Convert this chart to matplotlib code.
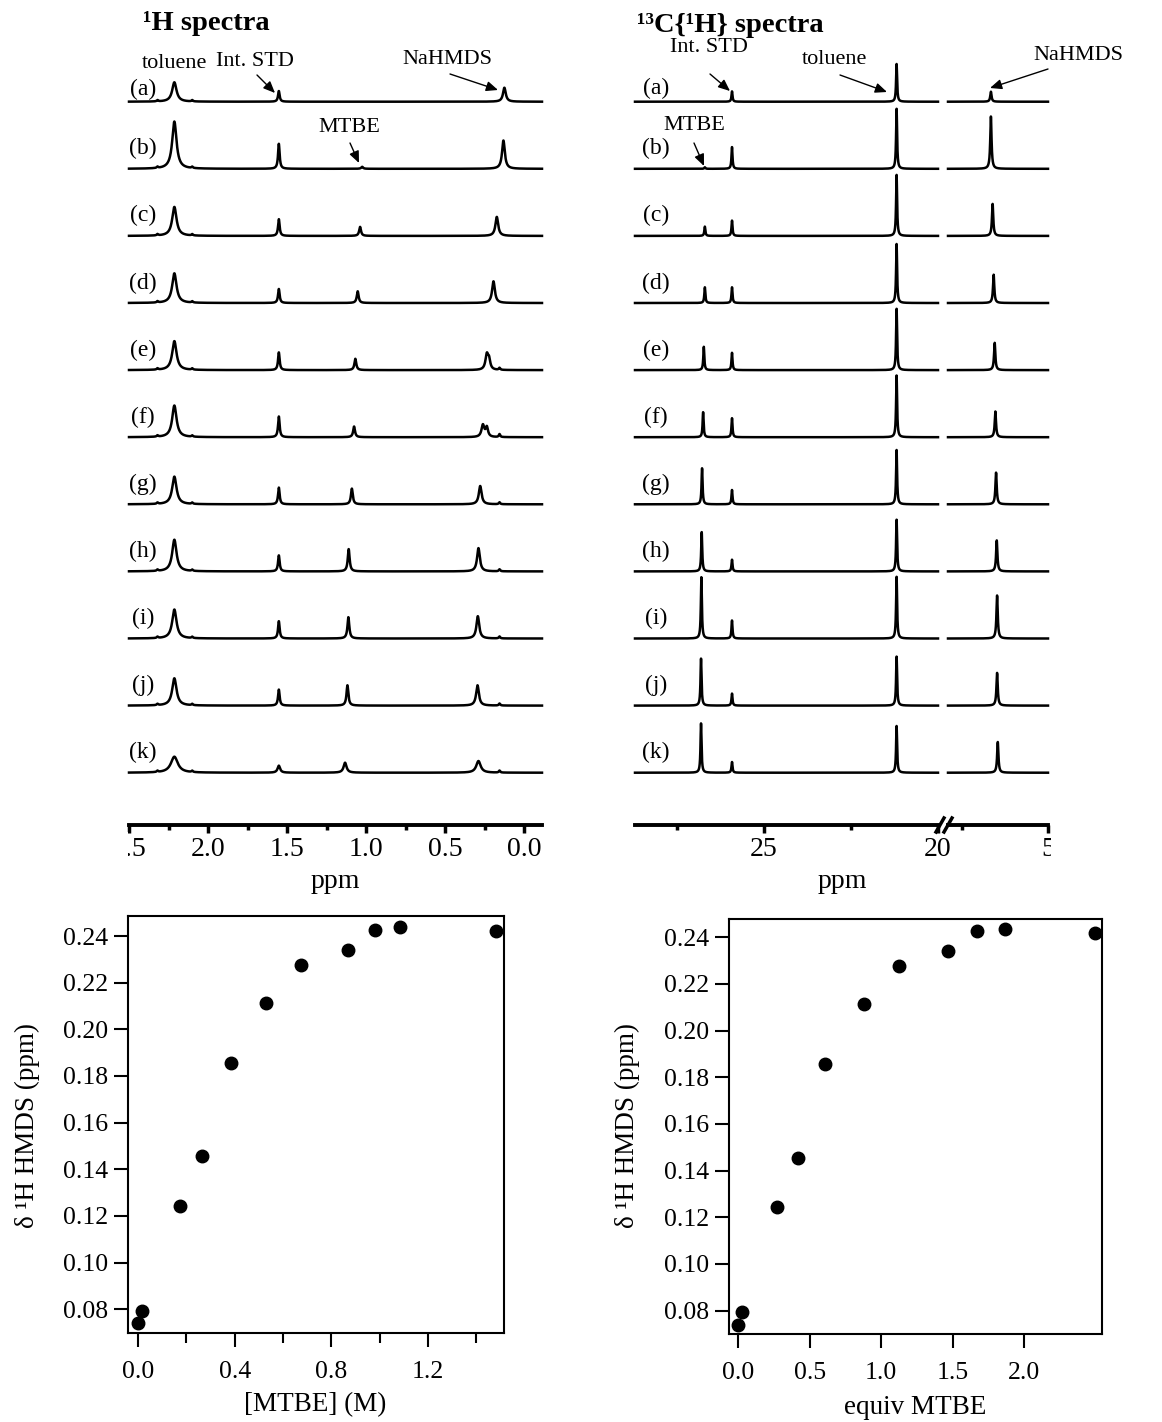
import numpy as np
import matplotlib.pyplot as plt
from matplotlib.patches import Rectangle
from matplotlib.lines import Line2D
from matplotlib.ticker import FormatStrFormatter

plt.rcParams["font.family"] = ["Liberation Serif", "DejaVu Serif"]

W, H = 1162, 1422
nan = np.nan

trace_labels = ["(a)", "(b)", "(c)", "(d)", "(e)", "(f)", "(g)", "(h)", "(i)", "(j)", "(k)"]

# 1H spectra: peak positions (ppm) and heights per trace
h_tol_pos = 2.213
h_tol_height = [19.4, 47.3, 29, 29.7, 29, 31.7, 27.7, 31.7, 29, 27.3, 16]
h_std_pos = 1.552
h_std_height = [10.7, 25, 16.7, 14, 17.7, 20.7, 16.7, 16, 17.3, 16, 7]
h_mtbe_pos = [nan, 1.025, 1.038, 1.053, 1.068, 1.076, 1.09, 1.11, 1.112, 1.118, 1.133]
h_mtbe_height = [0, 2, 9, 11.7, 11.3, 10.7, 15.7, 22.3, 21.3, 20.3, 10]
h_hmds_pos = [0.125, 0.131, 0.173, 0.194, 0.236, 0.261, 0.278, 0.289, 0.293, 0.295, 0.289]
h_hmds_height = [14, 28.3, 19, 21.7, 15, 12, 18.3, 23.3, 22.3, 20.3, 11.7]
h_shoulder_pos = [nan, nan, nan, nan, 0.222, 0.236, nan, nan, nan, nan, nan]
h_shoulder_height = [0, 0, 0, 0, 9, 9.5, 0, 0, 0, 0, 0]
h_minor_pos = 0.156
h_minor_height = [0, 0, 0, 0, 2, 3, 2, 2, 2, 2, 2]
h_sat_pos = [2.32, 2.10]
h_width_scale = [1, 1, 1, 1, 1, 1, 1, 1, 1, 1, 1.6]

# 13C{1H} spectra
c_tol_pos = 21.19
c_tol_height = [37.7, 60, 61, 59, 61.3, 61.7, 54.3, 51.7, 61.7, 49, 46.7]
c_std_pos = 25.92
c_std_height = [10.3, 21.7, 15.3, 15.7, 17.3, 19, 14.3, 11.7, 18, 12, 10.7]
c_mtbe_pos = [nan, 26.70, 26.70, 26.70, 26.73, 26.75, 26.78, 26.79, 26.80, 26.81, 26.81]
c_mtbe_height = [0, 1.5, 9.3, 15.7, 23.3, 25, 36, 39.3, 61.3, 47, 49.3]
c_hmds_pos = [6.66, 6.66, 6.61, 6.58, 6.55, 6.53, 6.51, 6.49, 6.48, 6.48, 6.46]
c_hmds_height = [10, 52.3, 32, 28.3, 27.3, 25.7, 31.7, 31, 43, 32.7, 30.7]

# titration plots
mtbe_conc = [0.0, 0.017, 0.172, 0.265, 0.385, 0.531, 0.676, 0.870, 0.979, 1.084, 1.481]
equiv_mtbe = [0.0, 0.028, 0.273, 0.422, 0.608, 0.879, 1.126, 1.469, 1.669, 1.867, 2.490]
delta_hmds = [0.0740, 0.0794, 0.1242, 0.1455, 0.1857, 0.2114, 0.2277, 0.2339, 0.2427, 0.2437, 0.2420]


def rect(x0, y0, x1, y1):
    return [x0 / W, 1 - y1 / H, (x1 - x0) / W, (y1 - y0) / H]


def fxy(x, y):
    return (x / W, 1 - y / H)


def lor(x, x0, h, w):
    if np.isnan(x0) or h == 0:
        return np.zeros_like(x)
    return h / (1 + ((x - x0) / (w / 2)) ** 2)


fig = plt.figure(figsize=(W / 100, H / 100), dpi=100)

base0, step = 101.7, 67.1   # baseline of trace (a) and spacing, in pixels
spine_y = 825


def spectrum_axis(x0, x1):
    ax = fig.add_axes(rect(x0, 40, x1, spine_y))
    ax.set_ylim(0, spine_y - 40)
    ax.patch.set_visible(False)
    for s in ["left", "right", "top"]:
        ax.spines[s].set_visible(False)
    ax.spines["bottom"].set_linewidth(2.8)
    ax.set_yticks([])
    ax.tick_params(axis="x", which="major", direction="out", length=6, width=2.5, pad=3, labelsize=20)
    ax.tick_params(axis="x", which="minor", direction="out", length=3.5, width=2.5)
    return ax


# ---- 1H spectra
ax1 = spectrum_axis(129, 542)
ax1.set_xlim(2.5, -0.113)
ax1.set_xticks([2.5, 2.0, 1.5, 1.0, 0.5, 0.0])
ax1.set_xticklabels(["2.5", "2.0", "1.5", "1.0", "0.5", "0.0"])
ax1.set_xticks(np.arange(0.25, 2.5, 0.5), minor=True)
xh = np.linspace(2.5, -0.113, 4000)
for i in range(11):
    ws = h_width_scale[i]
    y = (lor(xh, h_tol_pos, h_tol_height[i], 0.033 * ws)
         + lor(xh, h_std_pos, h_std_height[i], 0.012 * ws)
         + lor(xh, h_mtbe_pos[i], h_mtbe_height[i], 0.014 * ws)
         + lor(xh, h_hmds_pos[i], h_hmds_height[i], 0.021 * ws)
         + lor(xh, h_shoulder_pos[i], h_shoulder_height[i], 0.018)
         + lor(xh, h_minor_pos, h_minor_height[i], 0.01))
    for sp in h_sat_pos:
        y = y + lor(xh, sp, 1.3, 0.01)
    off = spine_y - (base0 + i * step)
    ax1.plot(xh, y + off, color="k", lw=1.8, clip_on=False)
    dy = 12 if i == 0 else 20
    fig.text(*fxy(143, base0 + i * step - dy), trace_labels[i], ha="center", va="center", fontsize=17)

fig.text(*fxy(335, 882), "ppm", ha="center", va="center", fontsize=20)
fig.text(*fxy(143, 24), "¹H spectra", ha="left", va="center", fontsize=20.5, fontweight="bold")

# ---- 13C spectra (broken axis)
ax2 = spectrum_axis(635, 938)
ax2.set_xlim(28.707, 20.0)
ax2.set_xticks([25, 20])
ax2.set_xticks([27.5, 22.5], minor=True)
ax3 = spectrum_axis(948, 1048)
ax3.set_xlim(7.907, 5.0)
ax3.set_xticks([5])
ax3.set_xticks([7.5], minor=True)
xc1 = np.linspace(28.707, 20.0, 12000)
xc2 = np.linspace(7.907, 5.0, 5000)
for i in range(11):
    off = spine_y - (base0 + i * step)
    y1 = (lor(xc1, c_tol_pos, c_tol_height[i], 0.035)
          + lor(xc1, c_std_pos, c_std_height[i], 0.035)
          + lor(xc1, c_mtbe_pos[i], c_mtbe_height[i], 0.035))
    y2 = lor(xc2, c_hmds_pos[i], c_hmds_height[i], 0.045)
    ax2.plot(xc1, y1 + off, color="k", lw=1.8, clip_on=False)
    ax3.plot(xc2, y2 + off, color="k", lw=1.8, clip_on=False)
    dy = 13 if i == 0 else 20
    fig.text(*fxy(656, base0 + i * step - dy), trace_labels[i], ha="center", va="center", fontsize=17)

for bx in [940, 948]:
    fig.add_artist(Line2D([(bx - 4) / W, (bx + 4) / W], [1 - 832 / H, 1 - 818 / H],
                          transform=fig.transFigure, color="k", lw=2.5))

fig.text(*fxy(842, 882), "ppm", ha="center", va="center", fontsize=20)
fig.text(*fxy(637, 25), "¹³C{¹H} spectra", ha="left", va="center", fontsize=20.5, fontweight="bold")

# clip the edge tick labels like the original
fig.add_artist(Rectangle((0, 1 - 872 / H), 128 / W, 40 / H, transform=fig.transFigure,
                         facecolor="white", edgecolor="none", zorder=10))
fig.add_artist(Rectangle((1051 / W, 1 - 872 / H), 60 / W, 40 / H, transform=fig.transFigure,
                         facecolor="white", edgecolor="none", zorder=10))

# ---- annotations
arrow = dict(arrowstyle="-|>,head_length=0.7,head_width=0.3", color="k", lw=1,
             shrinkA=0, shrinkB=0)
notes = [
    ("toluene", (175, 64), None, None),
    ("Int. STD", (255, 61), (257, 75), (275, 93)),
    ("NaHMDS", (447, 59), (450, 74), (498, 90)),
    ("MTBE", (349, 127), (350, 143), (359, 163)),
    ("Int. STD", (709, 48), (710, 74), (730, 91)),
    ("toluene", (835, 60), (840, 75), (887, 92)),
    ("NaHMDS", (1078, 56), (1048, 69), (990, 88)),
    ("MTBE", (694, 126), (694, 143), (704, 166)),
]
for txt, tp, a0, a1 in notes:
    fig.text(*fxy(*tp), txt, ha="center", va="center", fontsize=16)
    if a0 is not None:
        ax1.annotate("", xy=fxy(*a1), xytext=fxy(*a0), xycoords="figure fraction",
                     textcoords="figure fraction", arrowprops=arrow, annotation_clip=False)

# ---- titration plots
panels = [
    (rect(128, 916, 504, 1333), mtbe_conc, (-0.041, 1.514), (0.0698, 0.2486),
     [0, 0.4, 0.8, 1.2], [0.2, 0.6, 1.0, 1.4], "[MTBE] (M)", 315, 1405, 27),
    (rect(729, 919, 1102, 1334), equiv_mtbe, (-0.063, 2.542), (0.0700, 0.2478),
     [0, 0.5, 1.0, 1.5, 2.0], [], "equiv MTBE", 915, 1408, 627),
]
for r, xs, xl, yl, xt, xm, xlab, lx, ly, yx in panels:
    ax = fig.add_axes(r)
    ax.plot(xs, delta_hmds, "o", color="k", ms=9, clip_on=False)
    ax.set_xlim(*xl)
    ax.set_ylim(*yl)
    ax.set_xticks(xt)
    ax.set_xticks(xm, minor=True)
    ax.xaxis.set_major_formatter(FormatStrFormatter("%.1f"))
    ax.set_yticks(np.arange(0.08, 0.2401, 0.02))
    ax.yaxis.set_major_formatter(FormatStrFormatter("%.2f"))
    for s in ax.spines.values():
        s.set_linewidth(1.5)
    ax.tick_params(which="major", direction="out", length=10, width=1.5, labelsize=18.5)
    ax.tick_params(axis="x", which="major", pad=10)
    ax.tick_params(axis="y", which="major", pad=4)
    ax.tick_params(which="minor", direction="out", length=7, width=1.5)
    fig.text(*fxy(lx, ly), xlab, ha="center", va="center", fontsize=19.5)
    fig.text(*fxy(yx, 1126), "δ ¹H HMDS (ppm)", ha="center", va="center", rotation=90, fontsize=19.5)

fig.savefig("out.png", dpi=100)
